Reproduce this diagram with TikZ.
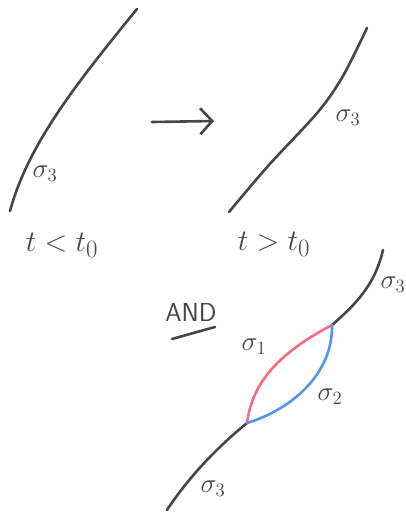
\documentclass[tikz,border=0pt]{standalone}
\usepackage{graphicx}
\usetikzlibrary{arrows.meta}
\definecolor{ink}{RGB}{70,70,70}
\definecolor{redink}{RGB}{240,110,125}
\definecolor{blueink}{RGB}{85,150,230}
\newcommand\mylab[1]{\scalebox{1.3}{\fontsize{20.74}{24}\selectfont$#1$}}
\newcommand\mybig[1]{\scalebox{1.2}{\fontsize{24.88}{28}\selectfont$#1$}}
\begin{document}
\begin{tikzpicture}[x=1pt,y=-1pt,
  stroke/.style={line width=2.6pt,line cap=round,line join=round,ink},
  lbl/.style={inner sep=0pt,text=ink}]
\useasboundingbox[fill=white] (0,0) rectangle (405,512);
% left curve
\coordinate (c1a) at (10,211);
\coordinate (c1b) at (137,9);
\draw[stroke] (c1a) .. controls (28,145) and (75,85) .. (c1b);
\node[lbl] (s1) at (45,174) {\mylab{\sigma_3}};
\node[lbl] (tl) at (62,245) {\mybig{t<t_0}};
% arrow
\coordinate (a1) at (152,122);
\coordinate (a2) at (214,121);
\draw[stroke,-{Straight Barb[length=12pt,width=26pt,line width=2.6pt]}] (a1) -- (a2);
% right curve
\draw[stroke] plot[smooth,tension=0.5] coordinates {(229,212) (268,166) (318,112) (343,76) (367,28)};
\node[lbl] (s2) at (348,118) {\mylab{\sigma_3}};
\node[lbl] (tr) at (274,244) {\mybig{t>t_0}};
% AND
\node[inner sep=0pt,text=ink,font=\sffamily\fontsize{26}{30}\selectfont] (and) at (191,312) {AND};
\coordinate (u1) at (172,339);
\coordinate (u2) at (215,327);
\draw[stroke] (u1) -- (u2);
% bottom diagram
\coordinate (j1) at (247,423);
\coordinate (j2) at (332,325);
\draw[stroke] (167,510) .. controls (190,475) and (220,445) .. (j1);
\draw[stroke] (j2) .. controls (355,305) and (375,285) .. (383,250);
\draw[stroke,redink] (j1) .. controls (252,385) and (275,355) .. (j2);
\draw[stroke,blueink] (j1) .. controls (290,410) and (333,375) .. (j2);
\node[lbl] (sg1) at (254,347) {\mylab{\sigma_1}};
\node[lbl] (sg2) at (330,397) {\mylab{\sigma_2}};
\node[lbl] (sg3a) at (393,285) {\mylab{\sigma_3}};
\node[lbl] (sg3b) at (213,489) {\mylab{\sigma_3}};
\end{tikzpicture}
\end{document}
